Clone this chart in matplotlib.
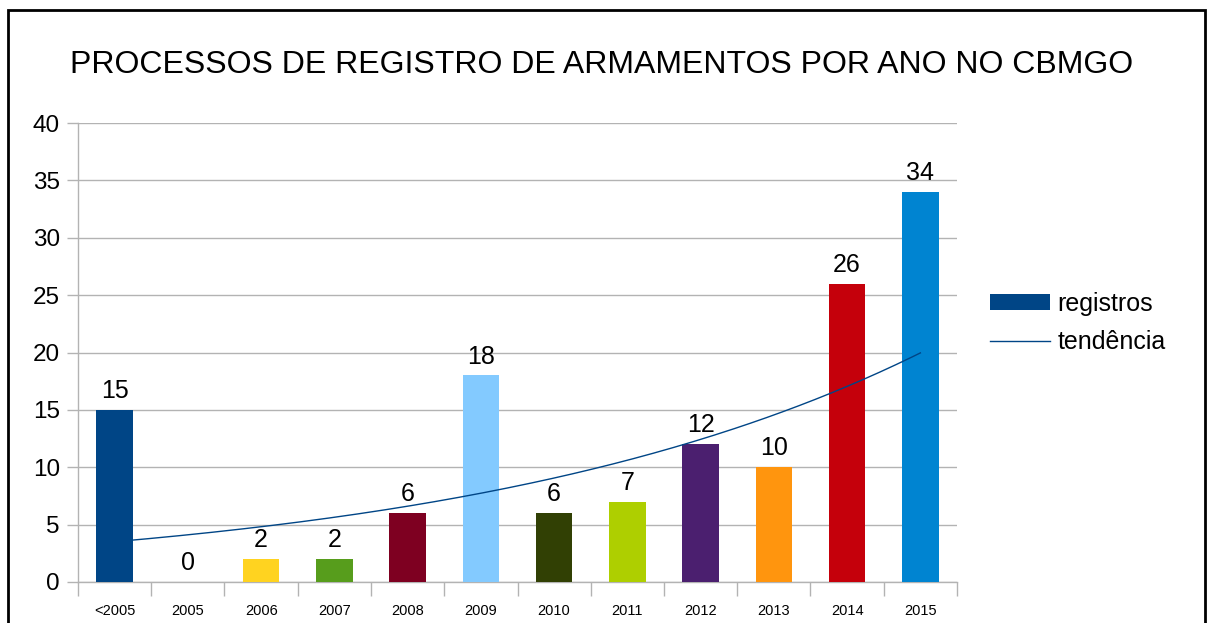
import matplotlib as mpl
import matplotlib.pyplot as plt
import numpy as np
from matplotlib.lines import Line2D
from matplotlib.patches import Patch, Rectangle

CATEGORIES = ["<2005", "2005", "2006", "2007", "2008", "2009",
              "2010", "2011", "2012", "2013", "2014", "2015"]
REGISTROS = [15, 0, 2, 2, 6, 18, 6, 7, 12, 10, 26, 34]
BAR_COLORS = ["#004586", "#ff420e", "#ffd320", "#579d1c", "#7e0021", "#83caff",
              "#314004", "#aecf00", "#4b1f6f", "#ff950e", "#c5000b", "#0084d1"]
TITLE = "PROCESSOS DE REGISTRO DE ARMAMENTOS POR ANO NO CBMGO"

mpl.rcParams.update({
    "font.family": ["Liberation Sans", "DejaVu Sans"],
})

GRID = "#b3b3b3"

fig = plt.figure(figsize=(12.08, 6.23), dpi=100)
ax = fig.add_axes([78 / 1208, 1 - 582 / 623, (957 - 78) / 1208, (582 - 123) / 623])

x = np.arange(len(CATEGORIES))
values = np.array(REGISTROS, dtype=float)
ax.bar(x, values, width=0.5, color=BAR_COLORS, zorder=3)

for xi, v in zip(x, values):
    ax.annotate(f"{int(v)}", (xi, v), xytext=(0, 5), textcoords="offset points",
                ha="center", va="bottom", fontsize=18, color="black", zorder=4)

# exponential trend line (LibreOffice style, x = 1..n, zeros skipped)
xn = x + 1
mask = values > 0
b, ln_a = np.polyfit(xn[mask], np.log(values[mask]), 1)
xs = np.linspace(xn[0], xn[-1], 200)
ax.plot(xs - 1, np.exp(ln_a + b * xs), color="#004586", lw=1.0, zorder=4)

ax.set_xlim(-0.5, len(CATEGORIES) - 0.5)
ax.set_ylim(0, 40)
ax.set_yticks(np.arange(0, 41, 5))
ax.yaxis.grid(True, color=GRID, lw=1.0, zorder=0)
ax.set_axisbelow(True)

ax.set_xticks(x)
ax.set_xticklabels(CATEGORIES, fontsize=10.5)
ax.set_xticks(np.arange(-0.5, len(CATEGORIES) + 0.5, 1), minor=True)
ax.tick_params(axis="x", which="major", length=0, pad=16)
ax.tick_params(axis="x", which="minor", length=10, color=GRID, width=1)
ax.tick_params(axis="y", length=8, color=GRID, width=1, labelsize=17.5, pad=5)

for side in ("top", "right"):
    ax.spines[side].set_visible(False)
for side in ("left", "bottom"):
    ax.spines[side].set_color(GRID)
    ax.spines[side].set_linewidth(1.0)

fig.text(602 / 1208, 1 - 65 / 623, TITLE, ha="center", va="center", fontsize=23)

handles = [
    Patch(facecolor="#004586", label="registros"),
    Line2D([], [], color="#004586", lw=1.0, label="tendência"),
]
fig.legend(handles=handles, loc="center left", bbox_to_anchor=(967 / 1208, 1 - 323 / 623),
           frameon=False, fontsize=18, handlelength=2.4, handleheight=0.6,
           handletextpad=0.32, labelspacing=0.55)

fig.add_artist(Rectangle((8 / 1208, -0.05), (1205 - 8) / 1208, 1.05 - 10 / 623,
                         transform=fig.transFigure, fill=False, edgecolor="black",
                         lw=2.0, zorder=10))

fig.savefig("out.png", dpi=100)
